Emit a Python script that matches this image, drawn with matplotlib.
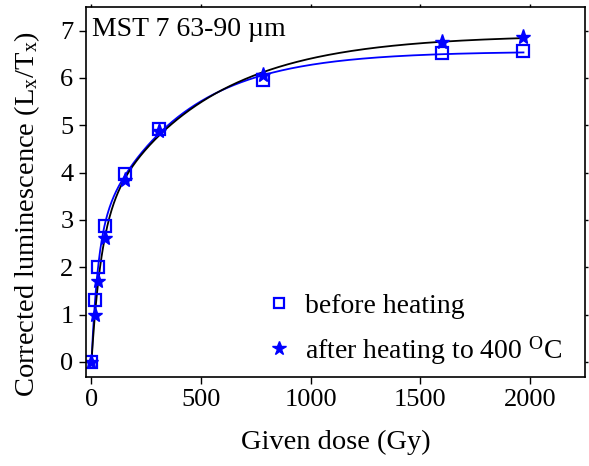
import numpy as np
import matplotlib
matplotlib.use("Agg")
import matplotlib.pyplot as plt

plt.rcParams['font.family'] = ['Liberation Serif', 'DejaVu Serif']
plt.rcParams['mathtext.fontset'] = 'custom'
plt.rcParams['mathtext.rm'] = 'Liberation Serif'
plt.rcParams['mathtext.it'] = 'Liberation Serif'

dose_before = [0, 15, 31, 62, 155, 310, 780, 1600, 1970]
lum_before = [0, 1.3, 2.0, 2.87, 3.97, 4.92, 5.95, 6.53, 6.56]

dose_after = [0, 15, 31, 62, 155, 310, 780, 1600, 1970]
lum_after = [0, 1.0, 1.7, 2.62, 3.85, 4.88, 6.07, 6.75, 6.87]


def fit_double_exp(x, y):
    # y = a(1-exp(-x/d1)) + b(1-exp(-x/d2)), grid search on d1, d2
    x = np.asarray(x, float)
    y = np.asarray(y, float)
    best = None
    for d1 in np.linspace(10, 300, 120):
        for d2 in np.linspace(100, 1500, 120):
            A = np.column_stack([1 - np.exp(-x / d1), 1 - np.exp(-x / d2)])
            coef, *_ = np.linalg.lstsq(A, y, rcond=None)
            err = np.sum((A @ coef - y) ** 2)
            if best is None or err < best[0]:
                best = (err, d1, d2, coef)
    _, d1, d2, coef = best
    return lambda t: coef[0] * (1 - np.exp(-t / d1)) + coef[1] * (1 - np.exp(-t / d2))


fs = 19
fs_lab = 20.5
fig, ax = plt.subplots(figsize=(5.89, 4.66), dpi=100)
fig.subplots_adjust(left=0.146, right=0.993, top=0.985, bottom=0.191)

xs = np.linspace(0, 1970, 600)
f_before = fit_double_exp(dose_before, lum_before)
f_after = fit_double_exp(dose_after, lum_after)
ax.plot(xs, f_before(xs), color='blue', lw=1.3)
ax.plot(xs, f_after(xs), color='black', lw=1.3)

ax.plot(dose_before, lum_before, 's', ms=8.5, mfc='none', mec='blue', mew=1.6,
        ls='none', label='before heating')
ax.plot(dose_after, lum_after, '*', ms=11, color='blue', ls='none',
        label='after heating to 400 $^{\\rm O}$C')

ax.set_xlim(-25, 2250)
ax.set_ylim(-0.32, 7.5)
ax.set_xticks([0, 500, 1000, 1500, 2000])
ax.set_yticks(range(8))
ax.tick_params(labelsize=fs, length=5, width=1, pad=4)
ax.tick_params(top=True, right=True)
for t in ax.xaxis.get_major_ticks():
    t.tick2line.set_markersize(2)
for t in ax.yaxis.get_major_ticks():
    t.tick2line.set_markersize(2)
ax.set_xlabel('Given dose (Gy)', fontsize=fs_lab, labelpad=13)
ax.set_ylabel('Corrected luminescence (L$_{\\rm x}$/T$_{\\rm x}$)', fontsize=fs_lab)
ax.yaxis.set_label_coords(-0.088, 0.44)
for s in ax.spines.values():
    s.set_linewidth(1.2)

ax.text(0.012, 0.972, 'MST 7 63-90 \u00b5m', transform=ax.transAxes,
        fontsize=20, va='top', ha='left')

ax.legend(loc='lower right', bbox_to_anchor=(1.0, -0.032), frameon=False,
          fontsize=20, handletextpad=0.25, borderaxespad=0.4, labelspacing=0.55,
          markerscale=0.9, handlelength=1.4)

fig.savefig('out.png', dpi=100)
